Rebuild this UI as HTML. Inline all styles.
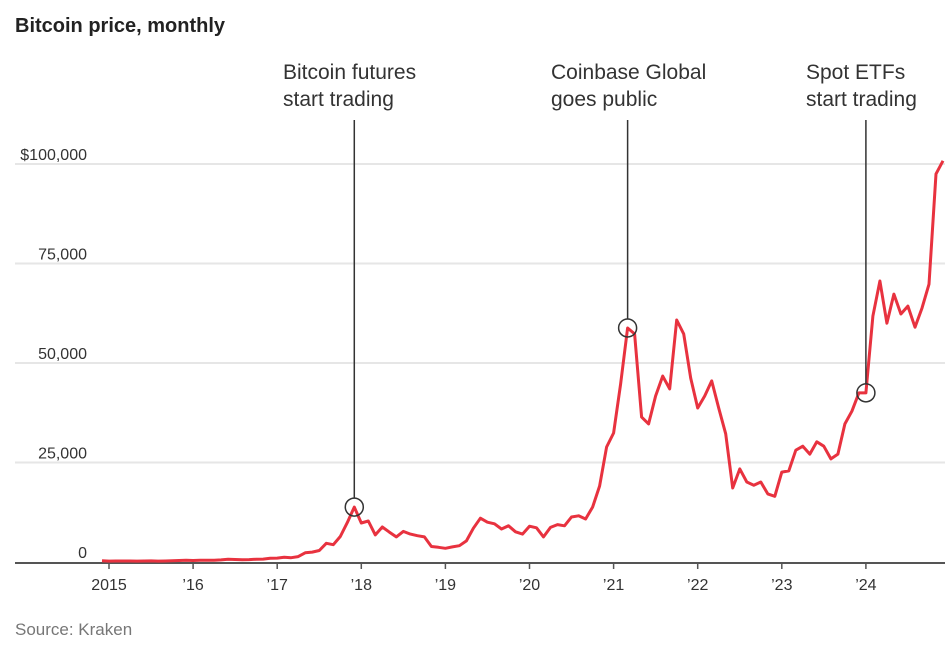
<!DOCTYPE html>
<html><head><meta charset="utf-8"><style>
html,body{margin:0;padding:0;background:#fff;}
svg text{font-family:"Liberation Sans",sans-serif;}
</style></head><body>
<svg id="chart" width="952" height="643">
<text x="15" y="32" font-size="20" font-weight="bold" fill="#222">Bitcoin price, monthly</text>
<g id="grid"></g>
<g id="xaxis"></g>
<path id="line" fill="none" stroke="#e8323f" stroke-width="3" stroke-linejoin="round"></path>
<g id="annos"></g>
<text x="15" y="635" font-size="17" fill="#777">Source: Kraken</text>
</svg>
<script>
// monthly prices Dec 2014 .. Dec 2024
const startYear = 2014, startMonth = 11;
const prices = [320,
220,250,250,240,230,260,280,230,240,310,380,430,
370,440,420,450,530,670,620,570,610,700,740,960,
970,1190,1080,1350,2300,2480,2880,4700,4340,6400,9900,13800,
9800,10300,6800,8800,7500,6300,7700,7000,6600,6300,3900,3700,
3450,3800,4100,5300,8500,11000,10000,9600,8300,9100,7600,7000,
9000,8600,6300,8700,9400,9100,11300,11600,10800,13800,19100,28900,
32400,44700,58800,57300,36400,34700,41700,46700,43500,60800,57300,46200,
38700,41700,45500,38700,32200,18600,23400,20100,19300,20100,17100,16500,
22600,22900,28100,29100,27100,30200,29100,25900,27100,34700,37900,42500,
42500,61800,70600,60000,67300,62300,64300,59000,63800,69800,97500,100800];
const yTicks = [0,25000,50000,75000,100000];
const yTickLabels = ["0","25,000","50,000","75,000","$100,000"];
const xYears = [2015,2016,2017,2018,2019,2020,2021,2022,2023,2024];
const xLabels = ["2015","\u201916","\u201917","\u201918","\u201919","\u201920","\u201921","\u201922","\u201923","\u201924"];
const annoDates = [[2017,11],[2021,2],[2024,0]];
const annoText = [["Bitcoin futures","start trading"],["Coinbase Global","goes public"],["Spot ETFs","start trading"]];
const annoTextX = [283,551,806];

const NS="http://www.w3.org/2000/svg";
const x0=109, pxYear=84.1;
function xs(y,m){return x0+(y-2015+m/12)*pxYear;}
function ys(v){return 562-v*99.5/25000;}
function mk(tag,attrs,parent){const e=document.createElementNS(NS,tag);for(const k in attrs)e.setAttribute(k,attrs[k]);parent.appendChild(e);return e;}
const grid=document.getElementById('grid');
yTicks.forEach((t,i)=>{
  if(t>0){const l=mk('line',{x1:15,x2:945,y1:ys(t),y2:ys(t),stroke:'#e6e6e6','stroke-width':2},grid);
  
  }
  const tx=mk('text',{x:87,y:ys(t)-4,'text-anchor':'end','font-size':16,fill:'#333'},grid);
  tx.textContent=yTickLabels[i];
  
  
});
const xa=document.getElementById('xaxis');
const ax=mk('line',{x1:15,x2:945,y1:563,y2:563,stroke:'#555','stroke-width':2},xa);


xYears.forEach((yr,i)=>{
  const x=xs(yr,0);
  const t=mk('line',{x1:x,x2:x,y1:563,y2:569,stroke:'#555','stroke-width':1.5},xa);
  
  
  const tx=mk('text',{x:x,y:590,'text-anchor':'middle','font-size':16,fill:'#333'},xa);
  tx.textContent=xLabels[i];
  
  
});
let d='';
prices.forEach((p,i)=>{const m=startMonth+i;const x=xs(startYear+Math.floor(m/12),m%12);d+=(i?'L':'M')+x.toFixed(1)+','+ys(p).toFixed(1);});
document.getElementById('line').setAttribute('d',d);
const an=document.getElementById('annos');
annoDates.forEach((ad,i)=>{
  const idx=(ad[0]-startYear)*12+ad[1]-startMonth;
  const x=xs(ad[0],ad[1]), y=ys(prices[idx]);
  const l=mk('line',{x1:x,x2:x,y1:120,y2:y-9,stroke:'#333','stroke-width':1.5},an);
  
  
  const c=mk('circle',{cx:x,cy:y,r:9,fill:'none',stroke:'#333','stroke-width':1.5},an);
  
  
  annoText[i].forEach((s,j)=>{
    const t=mk('text',{x:annoTextX[i],y:79+j*27,'font-size':21,fill:'#333'},an);
    t.textContent=s;
    
    
  });
});
</script>
</body></html>
